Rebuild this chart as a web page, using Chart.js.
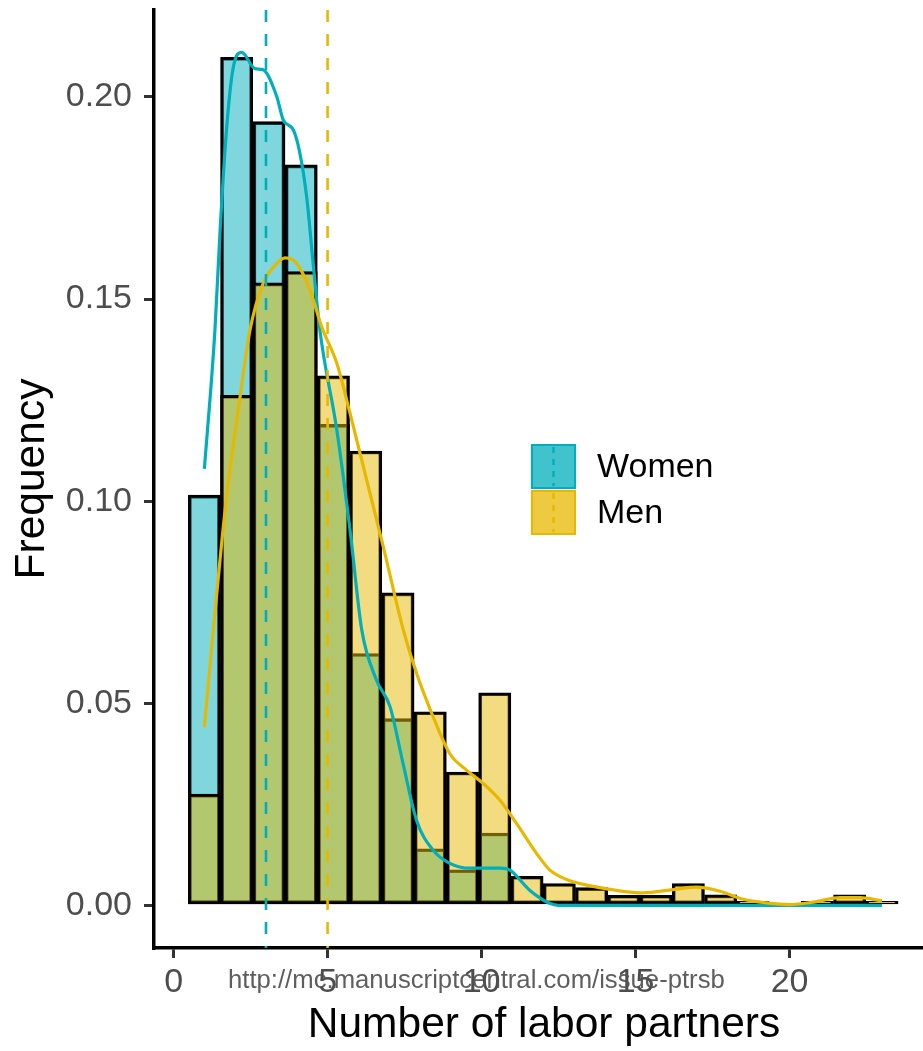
<!DOCTYPE html>
<html>
<head>
<meta charset="utf-8">
<title>Number of labor partners</title>
<script src="https://cdn.jsdelivr.net/npm/chart.js@4.4.1/dist/chart.umd.min.js"></script>
<style>
  html, body { margin: 0; padding: 0; background: #fff; overflow: hidden; }
  #wrap { position: relative; width: 923px; height: 1051px; overflow: hidden; }
  #hist { display: block; }
</style>
</head>
<body>
<div id="wrap"><canvas id="hist" width="934" height="1051"></canvas></div>
<script>
// histogram bins (22 bins, 1 to 23 partners)
const binCenters = [1.000, 2.048, 3.095, 4.143, 5.190, 6.238, 7.286, 8.333, 9.381, 10.429, 11.476,
  12.524, 13.571, 14.619, 15.667, 16.714, 17.762, 18.810, 19.857, 20.905, 21.952, 23.000];
const womenFreq = [0.1015, 0.2098, 0.1939, 0.1832, 0.1190, 0.0623, 0.0462, 0.0140, 0.0088, 0.0179, 0,
  0, 0, 0, 0, 0, 0, 0, 0, 0, 0, 0];
const menFreq = [0.0275, 0.1262, 0.1540, 0.1568, 0.1310, 0.1124, 0.0773, 0.0479, 0.0330, 0.0526, 0.0072,
  0.0054, 0.0044, 0.0025, 0.0025, 0.0054, 0.0026, 0.0010, 0, 0.0010, 0.0026, 0.0010];

// kernel density curves
const womenDensX = [1.0, 1.34, 1.51, 1.72, 1.93, 2.21, 2.64, 2.91, 3.35, 3.56, 3.89, 4.10, 4.32, 4.53, 4.75,
  5.30, 5.73, 6.11, 6.59, 7.03, 7.45, 7.89, 8.43, 8.97, 9.62, 10.6, 10.92, 11.57, 12.21, 12.5, 14, 16, 18, 20, 23];
const womenDensY = [0.108, 0.142, 0.167, 0.192, 0.207, 0.211, 0.207, 0.2067, 0.2001, 0.1943, 0.1918, 0.1861, 0.1753,
  0.1589, 0.1423, 0.1176, 0.0928, 0.0681, 0.0557, 0.0491, 0.0351, 0.0210, 0.0136, 0.0104, 0.0092, 0.0092, 0.0087,
  0.0037, 0.0005, 0, 0, 0, 0, 0, 0];
const menDensX = [1.0, 1.29, 1.72, 2.16, 2.48, 2.91, 3.35, 3.62, 4.0, 4.43, 4.81, 5.30, 5.73, 6.27, 6.81, 7.46,
  7.89, 8.43, 8.97, 9.52, 10.06, 10.6, 11.14, 11.79, 12.22, 12.76, 13.84, 15.25, 16.22, 16.98, 17.74, 18.50,
  19.26, 20.01, 20.77, 21.64, 22.29, 23.0];
const menDensY = [0.0441, 0.0681, 0.1011, 0.1258, 0.1423, 0.1539, 0.1588, 0.1602, 0.1588, 0.1522, 0.1431, 0.1341,
  0.1217, 0.1052, 0.0887, 0.0681, 0.0574, 0.0466, 0.0375, 0.0334, 0.0301, 0.0260, 0.0202, 0.0128, 0.0087, 0.0064,
  0.0044, 0.0031, 0.0039, 0.0045, 0.0035, 0.0015, 0.0006, 0.0002, 0.0008, 0.0019, 0.0019, 0.0011];

// group means (dashed lines)
const groupMeans = [3, 5];
const groupLabels = ["Women", "Men"];
const groupColors = ["#00AFBB", "#E7B800"];

const xTicks = [0, 5, 10, 15, 20];
const yTicks = [0, 0.05, 0.10, 0.15, 0.20];

const FONT = "'Liberation Sans', Arial, Helvetica, sans-serif";

function rgba(hex, a) {
  const n = parseInt(hex.slice(1), 16);
  return `rgba(${(n >> 16) & 255}, ${(n >> 8) & 255}, ${n & 255}, ${a})`;
}
const toPoints = (xs, ys) => xs.map((x, i) => ({ x: x, y: ys[i] }));

// vertical dashed mean lines
const meanLines = {
  id: "meanLines",
  afterDatasetsDraw(chart) {
    const { ctx, chartArea, scales } = chart;
    ctx.save();
    ctx.lineWidth = 2.6;
    ctx.setLineDash([12, 12]);
    groupMeans.forEach((m, i) => {
      const x = scales.x.getPixelForValue(m);
      ctx.strokeStyle = groupColors[i];
      ctx.beginPath();
      ctx.moveTo(x, chartArea.top);
      ctx.lineTo(x, chartArea.bottom);
      ctx.stroke();
    });
    ctx.restore();
  }
};

// legend drawn inside the panel
const boxLegend = {
  id: "boxLegend",
  afterDraw(chart) {
    const ctx = chart.ctx;
    const left = 531, top = 444, key = 45;
    ctx.save();
    groupLabels.forEach((label, i) => {
      const y = top + i * (key + 1);
      ctx.fillStyle = rgba(groupColors[i], 0.75);
      ctx.fillRect(left, y, key, key);
      ctx.strokeStyle = groupColors[i];
      ctx.lineWidth = 2;
      ctx.strokeRect(left + 1, y + 1, key - 2, key - 2);
      ctx.setLineDash([6, 6]);
      ctx.lineWidth = 2.4;
      ctx.beginPath();
      ctx.moveTo(left + key / 2, y + 3);
      ctx.lineTo(left + key / 2, y + key - 3);
      ctx.stroke();
      ctx.setLineDash([]);
      ctx.fillStyle = "#000";
      ctx.font = `34px ${FONT}`;
      ctx.textBaseline = "middle";
      ctx.fillText(label, 597, y + key / 2 + 1);
    });
    ctx.restore();
  }
};

// journal url stamped across the axis labels
const stamp = {
  id: "stamp",
  afterDraw(chart) {
    const ctx = chart.ctx;
    ctx.save();
    ctx.font = `25.7px ${FONT}`;
    ctx.fillStyle = "rgba(80, 80, 80, 0.92)";
    ctx.textBaseline = "alphabetic";
    ctx.fillText("http://mc.manuscriptcentral.com/issue-ptrsb", 228, 988);
    ctx.restore();
  }
};

const barStyle = (color) => ({
  backgroundColor: rgba(color, 0.5),
  borderColor: "#000",
  borderWidth: 3,
  borderSkipped: false,
  grouped: false,
  barPercentage: 1,
  categoryPercentage: 1
});

new Chart(document.getElementById("hist"), {
  type: "bar",
  data: {
    datasets: [
      Object.assign({ label: groupLabels[0], order: 5, data: toPoints(binCenters, womenFreq) }, barStyle(groupColors[0])),
      Object.assign({ label: groupLabels[1], order: 4, data: toPoints(binCenters, menFreq) }, barStyle(groupColors[1])),
      {
        type: "line", label: groupLabels[0] + " density", order: 3,
        data: toPoints(womenDensX, womenDensY),
        borderColor: groupColors[0], borderWidth: 3.2, pointRadius: 0,
        cubicInterpolationMode: "monotone", fill: false
      },
      {
        type: "line", label: groupLabels[1] + " density", order: 2,
        data: toPoints(menDensX, menDensY),
        borderColor: groupColors[1], borderWidth: 3.2, pointRadius: 0,
        cubicInterpolationMode: "monotone", fill: false
      }
    ]
  },
  options: {
    responsive: false,
    animation: false,
    devicePixelRatio: 1,
    layout: { padding: { top: 10, left: 0, right: 0, bottom: 0 } },
    plugins: { legend: { display: false }, tooltip: { enabled: false } },
    scales: {
      x: {
        type: "linear",
        offset: false,
        min: -0.636,
        max: 24.69,
        afterFit: (s) => { s.height = 103; s.paddingLeft = 0; s.paddingRight = 0; },
        afterBuildTicks: (s) => { s.ticks = xTicks.map((v) => ({ value: v })); },
        grid: { offset: false, drawOnChartArea: false, drawTicks: true, tickLength: 10, lineWidth: 3, color: "#333333" },
        border: { display: true, color: "#000", width: 3.5 },
        ticks: { color: "#4D4D4D", padding: 4, font: { family: FONT, size: 34 }, maxRotation: 0, autoSkip: false },
        title: { display: true, text: "Number of labor partners", color: "#000", padding: 0,
                 font: { family: FONT, size: 42.5 } }
      },
      y: {
        type: "linear",
        min: -0.01055,
        max: 0.2215,
        afterFit: (s) => { s.width = 154; s.paddingTop = 0; s.paddingBottom = 0; },
        afterBuildTicks: (s) => { s.ticks = yTicks.map((v) => ({ value: v })); },
        grid: { drawOnChartArea: false, drawTicks: true, tickLength: 10, lineWidth: 3, color: "#333333" },
        border: { display: true, color: "#000", width: 3.5 },
        ticks: { color: "#4D4D4D", padding: 12, font: { family: FONT, size: 34 },
                 callback: (v) => v.toFixed(2) },
        title: { display: true, text: "Frequency", color: "#000", padding: { top: 7, bottom: 0 },
                 font: { family: FONT, size: 42.5 } }
      }
    }
  },
  plugins: [meanLines, boxLegend, stamp]
});
</script>
</body>
</html>
